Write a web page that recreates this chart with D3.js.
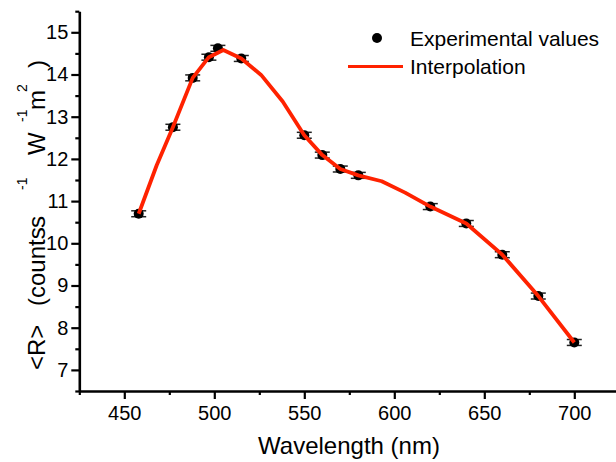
<!DOCTYPE html>
<html><head><meta charset="utf-8">
<script src="https://cdn.jsdelivr.net/npm/d3@7"></script>
<style>body{margin:0;background:#fff}svg{display:block}</style>
</head><body>
<script>
// Data
const wavelengths = [458, 477, 488, 497, 502, 515, 550, 560, 570, 580, 620, 640, 660, 680, 700];
const values      = [10.70, 12.75, 13.92, 14.41, 14.62, 14.38, 12.56, 12.09, 11.76, 11.61, 10.87, 10.47, 9.73, 8.75, 7.65];
const errors      = [0.07, 0.07, 0.07, 0.07, 0.07, 0.07, 0.07, 0.07, 0.07, 0.07, 0.07, 0.07, 0.07, 0.07, 0.07];
const interpX = [458, 468, 477, 488, 497, 505, 515, 526, 538, 550, 560, 570, 580, 593, 606, 620, 640, 660, 680, 700];
const interpY = [10.70, 11.85, 12.75, 13.92, 14.41, 14.58, 14.38, 13.99, 13.36, 12.56, 12.09, 11.76, 11.61, 11.47, 11.20, 10.87, 10.47, 9.73, 8.75, 7.65];
const xTicks = [450, 500, 550, 600, 650, 700];
const xMinor = [425, 475, 525, 575, 625, 675, 725];
const yTicks = [7, 8, 9, 10, 11, 12, 13, 14, 15];
const yMinor = [6.5, 7.5, 8.5, 9.5, 10.5, 11.5, 12.5, 13.5, 14.5, 15.5];
const legendLabels = ["Experimental values", "Interpolation"];

const W = 616, H = 462;
const font = "'Liberation Sans', Arial, Helvetica, sans-serif";
const svg = d3.select("body").append("svg").attr("width", W).attr("height", H)
  .style("font-family", font);

const x = d3.scaleLinear().domain([425, 725]).range([79.3, 619.3]);
const y = d3.scaleLinear().domain([6.5, 15.5]).range([391, 11.2]);

// Axes
function styleAxis(g){
  g.select(".domain").attr("stroke", "#000").attr("stroke-width", 2.6);
  g.selectAll(".tick line").attr("stroke", "#000").attr("stroke-width", 2.2);
  g.selectAll(".tick text").attr("fill", "#000").style("font-size", "20px").style("font-family", font);
}
const gx = svg.append("g").attr("transform", `translate(0,${y(6.5)})`)
  .call(d3.axisBottom(x).tickValues(xTicks).tickSize(8).tickPadding(7).tickSizeOuter(0).tickFormat(d3.format("d")));
styleAxis(gx);
const gxm = svg.append("g").attr("transform", `translate(0,${y(6.5)})`)
  .call(d3.axisBottom(x).tickValues(xMinor).tickSize(4).tickSizeOuter(0).tickFormat(""));
styleAxis(gxm);
gxm.select(".domain").remove();

const gy = svg.append("g").attr("transform", `translate(${x(425)},0)`)
  .call(d3.axisLeft(y).tickValues(yTicks).tickSize(8).tickPadding(3).tickSizeOuter(0).tickFormat(d3.format("d")));
styleAxis(gy);
const gym = svg.append("g").attr("transform", `translate(${x(425)},0)`)
  .call(d3.axisLeft(y).tickValues(yMinor).tickSize(4).tickSizeOuter(0).tickFormat(""));
styleAxis(gym);
gym.select(".domain").remove();

// Axis titles
svg.append("text").attr("x", 349).attr("y", 454).attr("text-anchor", "middle")
  .style("font-size", "24px").attr("fill", "#000").text("Wavelength (nm)");

// Y title: rotated; local (u,v) -> screen (v,-u)
const yl = svg.append("text").attr("transform", "rotate(-90)")
  .style("font-size", "24px").attr("fill", "#000");
const base = 45, sup = 27;
const yParts = [
  {t: "<R>", s: 370, b: base, f: 24},
  {t: "(counts", s: 306, b: base, f: 24},
  {t: "s", s: 228, b: base, f: 24},
  {t: "-1", s: 190, b: sup, f: 14},
  {t: "W", s: 155, b: base, f: 24},
  {t: "-1", s: 122, b: sup, f: 14},
  {t: "m", s: 110, b: base, f: 24},
  {t: "2", s: 92, b: sup, f: 14},
  {t: ")", s: 68, b: base, f: 24}
];
yl.selectAll("tspan").data(yParts).join("tspan")
  .attr("x", d => -d.s).attr("y", d => d.b).style("font-size", d => d.f + "px").text(d => d.t);

// Points with error bars
const pts = svg.append("g").selectAll("g").data(values).join("g");
pts.append("line").attr("x1", (d, i) => x(wavelengths[i])).attr("x2", (d, i) => x(wavelengths[i]))
  .attr("y1", (d, i) => y(d + errors[i])).attr("y2", (d, i) => y(d - errors[i]))
  .attr("stroke", "#000").attr("stroke-width", 1.5);
[1, -1].forEach(s => {
  pts.append("line").attr("x1", (d, i) => x(wavelengths[i]) - 7.5).attr("x2", (d, i) => x(wavelengths[i]) + 7.5)
    .attr("y1", (d, i) => y(d + s * errors[i])).attr("y2", (d, i) => y(d + s * errors[i]))
    .attr("stroke", "#222").attr("stroke-width", 1.5);
});
pts.append("circle").attr("cx", (d, i) => x(wavelengths[i])).attr("cy", d => y(d))
  .attr("r", 5).attr("fill", "#000");

// Interpolation line (on top of markers)
const line = d3.line().x((d, i) => x(interpX[i])).y(d => y(d)).curve(d3.curveLinear);
svg.append("path").datum(interpY).attr("d", line)
  .attr("fill", "none").attr("stroke", "#ff2200").attr("stroke-width", 3.8)
  .attr("stroke-linejoin", "round");

// Legend
const lg = svg.append("g");
lg.append("circle").attr("cx", 377).attr("cy", 38).attr("r", 5).attr("fill", "#000");
lg.append("line").attr("x1", 348).attr("x2", 403).attr("y1", 66.5).attr("y2", 66.5)
  .attr("stroke", "#ff2200").attr("stroke-width", 3);
lg.selectAll("text").data(legendLabels).join("text")
  .attr("x", 410).attr("y", (d, i) => 46 + i * 28)
  .style("font-size", "21px").attr("fill", "#000").text(d => d);
</script>
</body></html>
